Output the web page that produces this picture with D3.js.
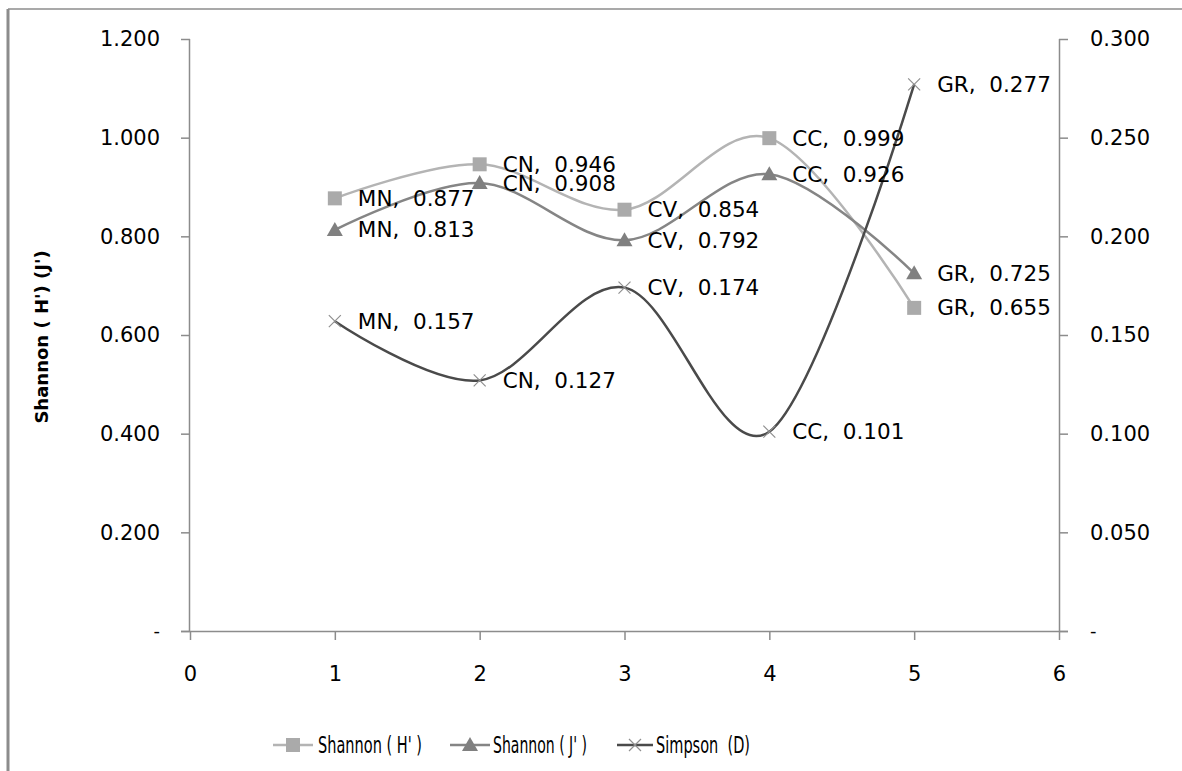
<!DOCTYPE html>
<html>
<head>
<meta charset="utf-8">
<script src="https://cdn.jsdelivr.net/npm/d3@7/dist/d3.min.js"></script>
<style>
  html, body { margin: 0; padding: 0; background: #fff; }
  svg { display: block; }
  text { font-family: "DejaVu Sans", sans-serif; fill: #000; }
</style>
</head>
<body>
<svg id="chart" width="1182" height="771"></svg>
<script>
// ---- data ----
const sites = ["MN", "CN", "CV", "CC", "GR"];
const xValues = [1, 2, 3, 4, 5];
const shannonH = [0.877, 0.946, 0.854, 0.999, 0.655];
const shannonJ = [0.813, 0.908, 0.792, 0.926, 0.725];
const simpsonD = [0.157, 0.127, 0.174, 0.101, 0.277];
const xTicks = [0, 1, 2, 3, 4, 5, 6];
const leftTicks = [0, 0.2, 0.4, 0.6, 0.8, 1.0, 1.2];
const rightTicks = [0, 0.05, 0.1, 0.15, 0.2, 0.25, 0.3];
const seriesNames = ["Shannon ( H' )", "Shannon ( J' )", "Simpson  (D)"];
const yTitle = "Shannon ( H') (J')";

const svg = d3.select("#chart");
const W = 1182, H = 771;

// frame
svg.append("line").attr("x1", 8).attr("x2", W).attr("y1", 9).attr("y2", 9)
  .attr("stroke", "#8c8c8c").attr("stroke-width", 1.5);
svg.append("line").attr("x1", 8).attr("x2", 8).attr("y1", 9).attr("y2", H)
  .attr("stroke", "#8c8c8c").attr("stroke-width", 3);

const x = d3.scaleLinear().domain([0, 6]).range([190, 1059]);
const yL = d3.scaleLinear().domain([0, 1.2]).range([631, 39]);
const yR = d3.scaleLinear().domain([0, 0.3]).range([631, 39]);

const axisColor = "#8c8c8c";
const fmt3 = d => d === 0 ? "-" : d3.format(".3f")(d);

const gL = svg.append("g").attr("transform", `translate(${x(0)},0)`)
  .call(d3.axisLeft(yL).tickValues(leftTicks).tickFormat(fmt3).tickSize(9).tickPadding(21));
const gR = svg.append("g").attr("transform", `translate(${x(6)},0)`)
  .call(d3.axisRight(yR).tickValues(rightTicks).tickFormat(fmt3).tickSize(9).tickPadding(22));
const gB = svg.append("g").attr("transform", `translate(0,${yL(0)})`)
  .call(d3.axisBottom(x).tickValues(xTicks).tickFormat(d3.format("d")).tickSize(9).tickPadding(26));

[gL, gR, gB].forEach(g => {
  g.select(".domain").attr("stroke", axisColor).attr("stroke-width", 1.5);
  g.selectAll(".tick line").attr("stroke", axisColor).attr("stroke-width", 1.5);
  g.selectAll(".tick text").attr("font-size", 21).attr("font-family", "DejaVu Sans").attr("fill", "#000");
});
gL.select(".domain").attr("d", `M-0.5,${yL(1.2)}V${yL(0)}`);
gR.select(".domain").attr("d", `M0.5,${yR(0.3)}V${yR(0)}`);
gB.select(".domain").attr("d", `M${x(0) - 9},0.5H${x(6) + 9}`);
gL.selectAll(".tick").filter(d => d === 0).select("text").attr("font-size", 18);
gR.selectAll(".tick").filter(d => d === 0).select("text").attr("font-size", 18);

// y title
svg.append("text")
  .attr("transform", `translate(48,337) rotate(-90)`)
  .attr("text-anchor", "middle")
  .attr("font-family", "DejaVu Sans Condensed, DejaVu Sans")
  .attr("font-weight", "bold")
  .attr("font-size", 18)
  .text(yTitle);

// series
const curve = d3.curveCardinal.tension(0);
const series = [
  { name: seriesNames[0], vals: shannonH, y: yL, line: "#b4b4b4", mark: "#aaaaaa", type: "square" },
  { name: seriesNames[1], vals: shannonJ, y: yL, line: "#858585", mark: "#808080", type: "triangle" },
  { name: seriesNames[2], vals: simpsonD, y: yR, line: "#4a4a4a", mark: "#909090", type: "cross" }
];

function drawMarker(g, type, cx, cy, color) {
  if (type === "square") {
    g.append("rect").attr("x", cx - 7).attr("y", cy - 7).attr("width", 14).attr("height", 14)
      .attr("fill", color);
  } else if (type === "triangle") {
    g.append("path").attr("d", `M${cx},${cy - 8}L${cx + 8},${cy + 6}L${cx - 8},${cy + 6}Z`)
      .attr("fill", color);
  } else {
    g.append("path").attr("d", `M${cx - 6},${cy - 6}L${cx + 6},${cy + 6}M${cx - 6},${cy + 6}L${cx + 6},${cy - 6}`)
      .attr("stroke", color).attr("stroke-width", 1.2).attr("fill", "none");
  }
}

series.forEach(s => {
  const pts = s.vals.map((v, i) => [x(xValues[i]), s.y(v)]);
  svg.append("path")
    .attr("d", d3.line().curve(curve)(pts))
    .attr("fill", "none").attr("stroke", s.line).attr("stroke-width", 2.5);
});
series.forEach(s => {
  const g = svg.append("g");
  s.vals.forEach((v, i) => {
    const cx = x(xValues[i]), cy = s.y(v);
    drawMarker(g, s.type, cx, cy, s.mark);
    g.append("text")
      .attr("x", cx + 23).attr("y", cy)
      .attr("dominant-baseline", "central")
      .attr("font-size", 21.5)
      .attr("xml:space", "preserve")
      .text(`${sites[i]},  ${d3.format(".3f")(v)}`);
  });
});

// legend
const legendY = 745;
const legendItems = [
  { x1: 273, x2: 313, tx: 318, tw: 104 },
  { x1: 450, x2: 490, tx: 493, tw: 94 },
  { x1: 617, x2: 653, tx: 656, tw: 94 }
];
legendItems.forEach((it, i) => {
  const s = series[i];
  const g = svg.append("g");
  g.append("line").attr("x1", it.x1).attr("x2", it.x2).attr("y1", legendY).attr("y2", legendY)
    .attr("stroke", s.line).attr("stroke-width", 2.5);
  drawMarker(g, s.type, (it.x1 + it.x2) / 2, legendY, s.mark);
  g.append("text").attr("x", it.tx).attr("y", legendY)
    .attr("dominant-baseline", "central")
    .attr("font-family", "DejaVu Sans Condensed, DejaVu Sans")
    .attr("font-size", 23)
    .attr("textLength", it.tw).attr("lengthAdjust", "spacingAndGlyphs")
    .attr("xml:space", "preserve")
    .text(s.name);
});
</script>
</body>
</html>
